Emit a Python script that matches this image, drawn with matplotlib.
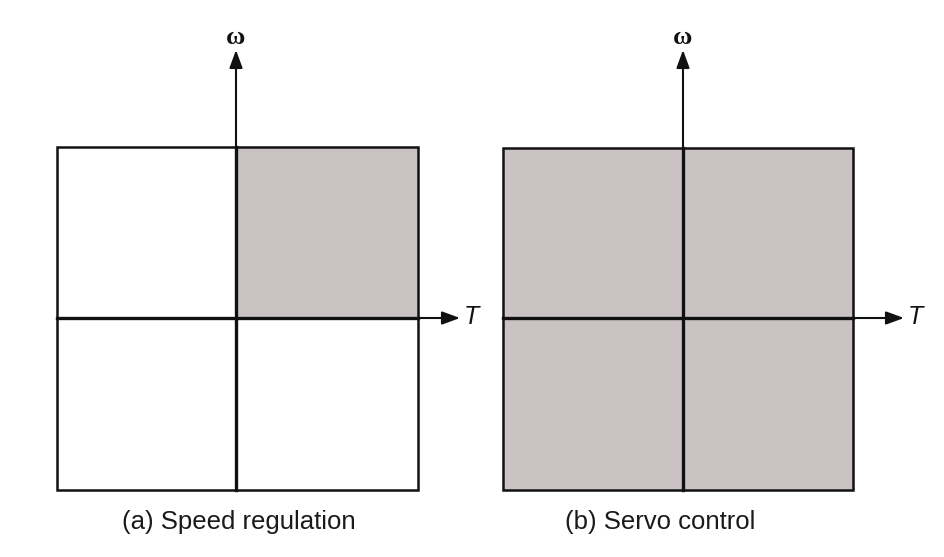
import matplotlib
matplotlib.use("Agg")
import matplotlib.pyplot as plt
from matplotlib.patches import Rectangle

# data: captions and which quadrants are shaded (I, II, III, IV)
captions = ["(a) Speed regulation", "(b) Servo control"]
shaded = [[True, False, False, False],
          [True, True, True, True]]
ax_labels = ["T", "\u03c9"]

fill_col = "#cbc3c3"

fig = plt.figure(figsize=(9.45, 5.57), dpi=100)
ax = fig.add_axes([0, 0, 1, 1])
ax.set_xlim(0, 945)
ax.set_ylim(557, 0)
ax.axis("off")

# panel geometry in pixels: left, right, top, bottom, centre x, centre y
panels = [(57, 418, 147, 490, 236, 318),
          (503, 853, 148, 490, 683, 318)]
arrow_end = [(460, 50), (904, 50)]
cap_x = [239, 660]

for i, (l, r, t, b, cx, cy) in enumerate(panels):
    quads = [(cx, t, r, cy), (l, t, cx, cy), (l, cy, cx, b), (cx, cy, r, b)]
    for q, on in zip(quads, shaded[i]):
        if on:
            x0, y0, x1, y1 = q
            ax.add_patch(Rectangle((x0, y0), x1 - x0, y1 - y0,
                                   facecolor=fill_col, edgecolor="none"))
    ax.add_patch(Rectangle((l, t), r - l, b - t, fill=False,
                           edgecolor="#111111", lw=1.8))
    # axes lines
    ax.plot([cx, cx], [t, b], color="#111111", lw=2.4)
    ax.plot([l, r], [cy, cy], color="#111111", lw=2.4)
    xe, ye = arrow_end[i]
    ax.annotate("", xy=(xe, cy), xytext=(r, cy),
                arrowprops=dict(arrowstyle="-|>,head_length=0.6,head_width=0.22",
                                color="#111111", lw=1.5,
                                mutation_scale=18, shrinkA=0, shrinkB=0))
    ax.annotate("", xy=(cx, ye), xytext=(cx, t),
                arrowprops=dict(arrowstyle="-|>,head_length=0.6,head_width=0.22",
                                color="#111111", lw=1.5,
                                mutation_scale=18, shrinkA=0, shrinkB=0))
    ax.text(xe + 11, cy - 1, ax_labels[0], fontsize=18, style="italic",
            ha="center", va="center", color="#111111", family="Liberation Sans")
    ax.text(cx, 37, ax_labels[1], fontsize=19, ha="center", va="center",
            color="#111111", family="Liberation Serif", weight="bold")
    ax.text(cap_x[i], 522, captions[i], fontsize=18.5, ha="center",
            va="center", color="#1a1a1a", family="Liberation Sans")

fig.savefig("out.png", dpi=100)
